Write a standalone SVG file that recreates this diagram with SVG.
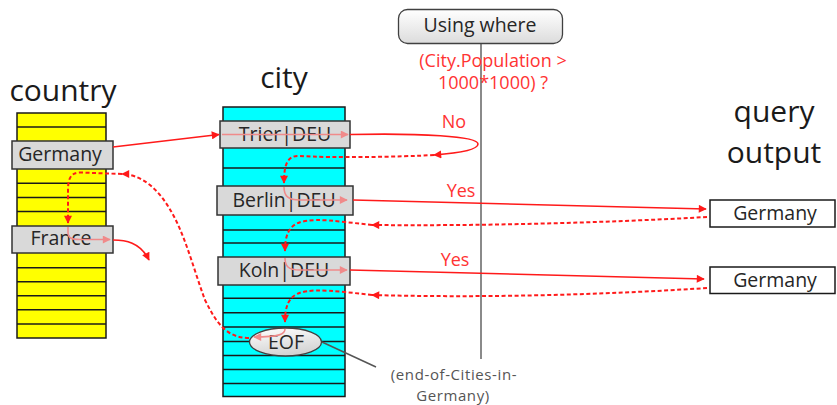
<svg xmlns="http://www.w3.org/2000/svg" width="837" height="405" viewBox="0 0 837 405">
<defs>
<marker id="ah" viewBox="0 0 10 10" refX="9" refY="5" markerWidth="9" markerHeight="8" markerUnits="userSpaceOnUse" orient="auto">
<path d="M0,0 L10,5 L0,10 z" fill="#ff1a1a"/>
</marker>
<marker id="ahl" viewBox="0 0 10 10" refX="9" refY="5" markerWidth="9" markerHeight="8" markerUnits="userSpaceOnUse" orient="auto">
<path d="M0,0 L10,5 L0,10 z" fill="#f08a8a"/>
</marker>
<linearGradient id="gw" x1="0" y1="0" x2="0" y2="1">
<stop offset="0" stop-color="#ffffff"/>
<stop offset="1" stop-color="#dcdcdc"/>
</linearGradient>
<linearGradient id="ge" x1="0" y1="0" x2="0.3" y2="1">
<stop offset="0" stop-color="#ffffff"/>
<stop offset="1" stop-color="#d4d4d4"/>
</linearGradient>
</defs>
<style>
.title{font-family:"Open Sans","Liberation Sans",sans-serif;font-size:30px;fill:#1a1a1a;text-anchor:middle}
.lbl{font-family:"Open Sans","Liberation Sans",sans-serif;font-size:19.5px;fill:#262626;text-anchor:middle}
.box{fill:#d9d9d9;stroke:#333;stroke-width:1.5}
.row{stroke:#1a1a1a;stroke-width:1.5}
.solid{fill:none;stroke:#ff1a1a;stroke-width:1.6}
.light{fill:none;stroke:#f08a8a;stroke-width:1.6}
.dash{fill:none;stroke:#ff1a1a;stroke-width:2;stroke-dasharray:4 2.5}
.red{font-family:"Comic Sans MS","Open Sans",sans-serif;font-size:18px;fill:#ff3333;text-anchor:middle}
.note{font-family:"Comic Sans MS","Open Sans",sans-serif;font-size:15px;fill:#555;text-anchor:middle;letter-spacing:0.6px}
</style>
<rect width="837" height="405" fill="#fff"/>

<!-- titles -->
<text class="title" x="63" y="101">country</text>
<text class="title" x="284" y="88">city</text>
<text class="title" x="774" y="122">query</text>
<text class="title" x="774" y="163">output</text>

<!-- condition line -->
<g id="where">
<line x1="481" y1="44" x2="481" y2="359" stroke="#8a8a8a" stroke-width="2"/>
<rect x="398.5" y="9.5" width="164" height="34" rx="9" fill="url(#gw)" stroke="#404040" stroke-width="1.3"/>
<text class="lbl" x="480" y="32">Using where</text>
<text class="red" x="493" y="67">(City.Population &gt;</text>
<text class="red" x="493" y="89">1000*1000) ?</text>
</g>

<!-- columns -->
<g id="country-col">
<rect x="17" y="113" width="89" height="225" fill="#ffff00" stroke="#1a1a1a" stroke-width="1.5"/>
<line class="row" x1="17" y1="127.1" x2="106" y2="127.1"/>
<line class="row" x1="17" y1="183.3" x2="106" y2="183.3"/>
<line class="row" x1="17" y1="197.4" x2="106" y2="197.4"/>
<line class="row" x1="17" y1="211.4" x2="106" y2="211.4"/>
<line class="row" x1="17" y1="267.7" x2="106" y2="267.7"/>
<line class="row" x1="17" y1="281.7" x2="106" y2="281.7"/>
<line class="row" x1="17" y1="295.8" x2="106" y2="295.8"/>
<line class="row" x1="17" y1="309.8" x2="106" y2="309.8"/>
<line class="row" x1="17" y1="323.9" x2="106" y2="323.9"/>
</g>
<g id="city-col">
<rect x="223" y="107" width="122" height="289.5" fill="#00ffff" stroke="#1a1a1a" stroke-width="1.5"/>
<line class="row" x1="223" y1="168" x2="345" y2="168"/>
<line class="row" x1="223" y1="230" x2="345" y2="230"/>
<line class="row" x1="223" y1="243" x2="345" y2="243"/>
<line class="row" x1="223" y1="298.3" x2="345" y2="298.3"/>
<line class="row" x1="223" y1="312.7" x2="345" y2="312.7"/>
<line class="row" x1="223" y1="327" x2="345" y2="327"/>
<line class="row" x1="223" y1="341.5" x2="345" y2="341.5"/>
<line class="row" x1="223" y1="355.5" x2="345" y2="355.5"/>
<line class="row" x1="223" y1="369.5" x2="345" y2="369.5"/>
<line class="row" x1="223" y1="383.5" x2="345" y2="383.5"/>
</g>

<!-- nodes -->
<g id="germany-country"><rect class="box" x="12" y="141" width="101" height="28"/><text class="lbl" x="60" y="161">Germany</text></g>
<g id="france-country"><rect class="box" x="12" y="226" width="101" height="27"/><text class="lbl" x="61" y="245">France</text></g>
<g id="trier"><rect class="box" x="220" y="121" width="130" height="27"/><text class="lbl" x="285" y="141">Trier|DEU</text></g>
<g id="berlin"><rect class="box" x="217" y="186" width="136" height="29"/><text class="lbl" x="284" y="206.5">Berlin|DEU</text></g>
<g id="koln"><rect class="box" x="218" y="257" width="132" height="28"/><text class="lbl" x="284" y="277">Koln|DEU</text></g>
<g id="eof"><ellipse cx="285.5" cy="342" rx="36" ry="14" fill="url(#ge)" stroke="#404040" stroke-width="1.3"/><text class="lbl" x="286" y="349">EOF</text></g>
<g id="out1"><rect x="710" y="200" width="125" height="27" fill="#fff" stroke="#1a1a1a" stroke-width="1.5"/><text class="lbl" x="775" y="220">Germany</text></g>
<g id="out2"><rect x="710" y="267" width="125" height="26.5" fill="#fff" stroke="#1a1a1a" stroke-width="1.5"/><text class="lbl" x="775" y="286.5">Germany</text></g>

<!-- connectors -->
<g id="connectors">
<path class="solid" d="M113 147 L219 134.5" marker-end="url(#ah)"/>
<path class="light" d="M222 134.5 L348 134.5" marker-end="url(#ahl)"/>
<path class="solid" d="M350 134.5 C420 133 478 136 478 144 C478 150 460 153 434 155" marker-end="url(#ah)"/>
<path class="dash" d="M434 155 C400 157 330 158 300 156 C287 155 284 165 284 183" marker-end="url(#ah)"/>
<path class="light" d="M284 187 C284 196 288 200 300 200 L347 200" marker-end="url(#ahl)"/>
<path class="solid" d="M353 200 L706 209" marker-end="url(#ah)"/>
<path class="dash" d="M707 217 C600 223 480 226 372 225" marker-end="url(#ah)"/>
<path class="dash" d="M372 225 L345 222 C300 217 285 220 285 251" marker-end="url(#ah)"/>
<path class="light" d="M285 258 C285 266 288 270 300 270 L347 270" marker-end="url(#ahl)"/>
<path class="solid" d="M350 270 L704 279" marker-end="url(#ah)"/>
<path class="dash" d="M707 288 C600 295 480 298 372 295" marker-end="url(#ah)"/>
<path class="dash" d="M372 295 L345 292 C300 288 285 290 285 322" marker-end="url(#ah)"/>
<path class="light" d="M285 329 C285 334 280 337 254 337" marker-end="url(#ahl)"/>
<path class="dash" d="M249 338 C225 338 215 320 205 300 C190 260 180 210 150 185 C140 177 130 174 122 174" marker-end="url(#ah)"/>
<path class="dash" d="M122 174 L80 172.5 C70 172.5 68 180 68 190 L68 223" marker-end="url(#ah)"/>
<path class="light" d="M68 227 L68 232 C68 238 71 239.5 80 239.5 L110 239.5" marker-end="url(#ahl)"/>
<path class="solid" d="M113 240 C125 240 140 242 149 260" marker-end="url(#ah)"/>
<line x1="322" y1="342" x2="376" y2="367" stroke="#555" stroke-width="1.5"/>
</g>

<!-- labels on connectors -->
<text class="red" x="454" y="128">No</text>
<text class="red" x="461" y="197">Yes</text>
<text class="red" x="455" y="266">Yes</text>

<g id="note">
<text class="note" x="454" y="380">(end-of-Cities-in-</text>
<text class="note" x="453" y="401">Germany)</text>
</g>
</svg>
